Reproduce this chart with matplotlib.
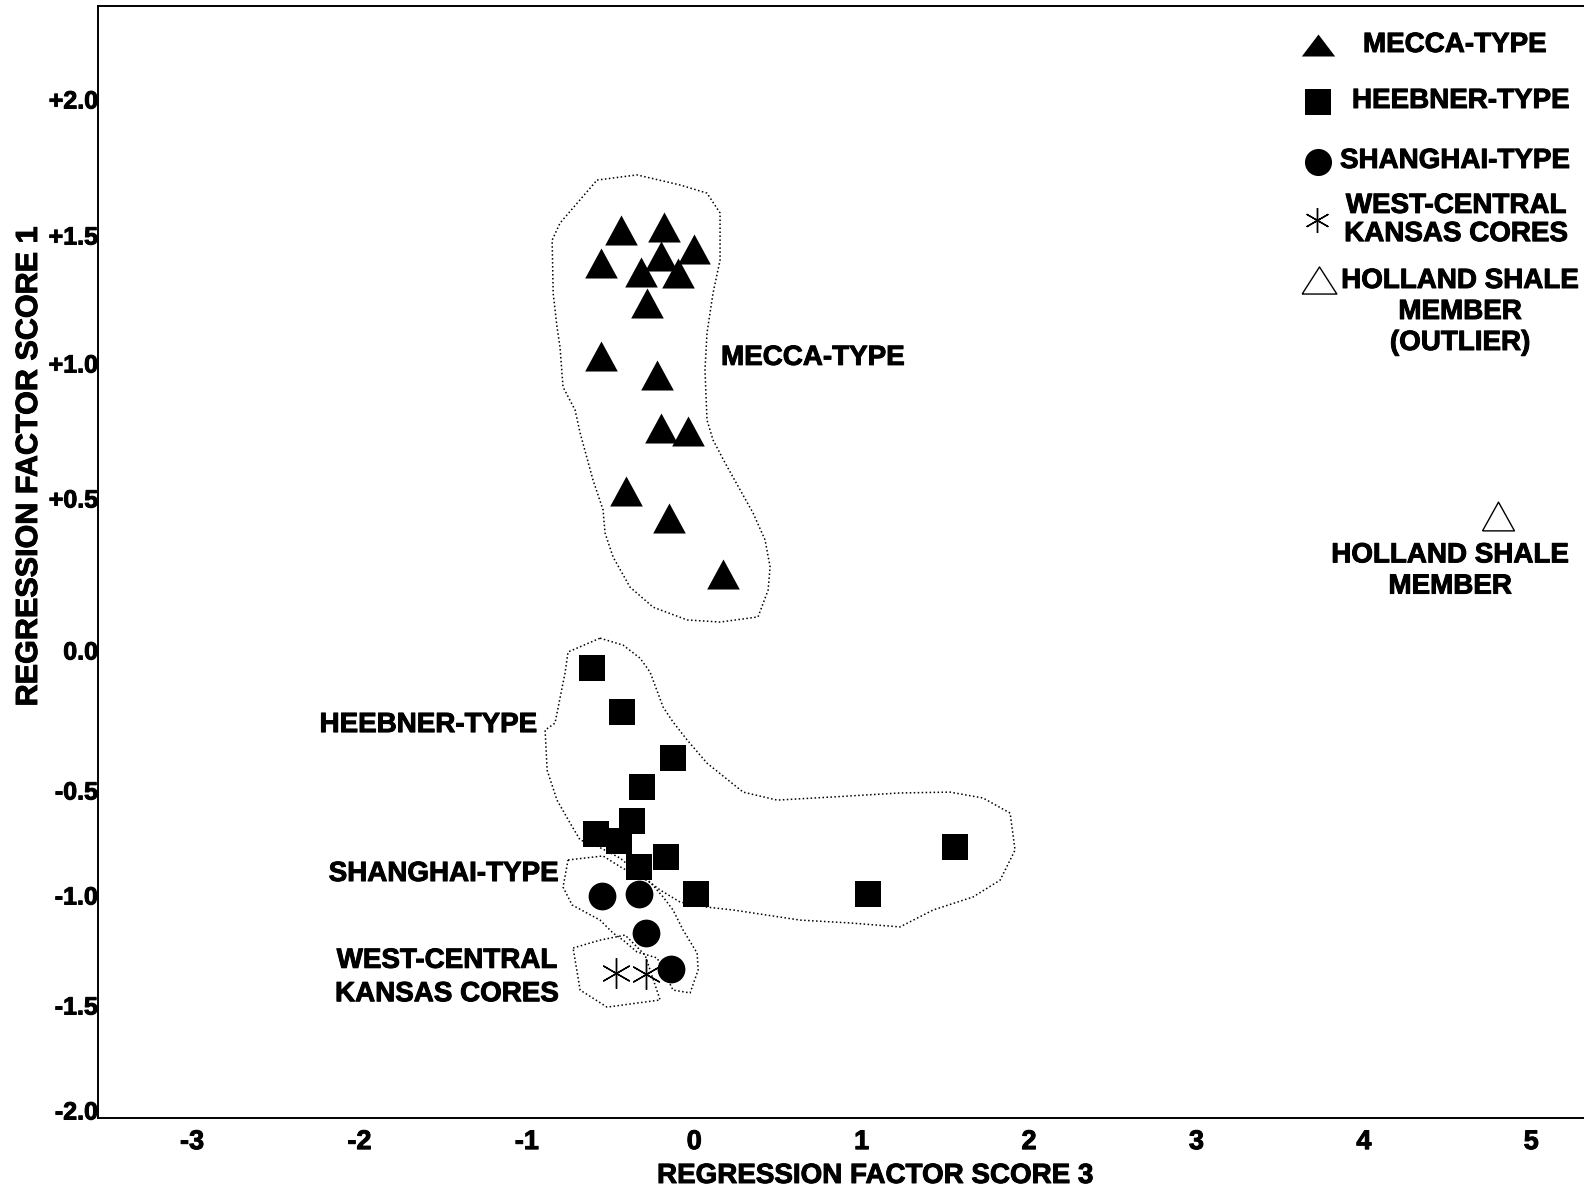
import numpy as np
import matplotlib
matplotlib.use("Agg")
import matplotlib.pyplot as plt
import matplotlib.patheffects as pe

plt.rcParams['font.family'] = ['Liberation Sans', 'DejaVu Sans']
plt.rcParams['font.weight'] = 'bold'

W, H = 1584, 1190

# regression factor score 3 (x) / score 1 (y)
mecca_x = [-0.44, -0.18, 0.00, -0.56, -0.20, -0.32, -0.10, -0.28, -0.56, -0.22, -0.20, -0.04, -0.41, -0.15, 0.17]
mecca_y = [1.52, 1.53, 1.445, 1.39, 1.418, 1.355, 1.352, 1.234, 1.027, 0.956, 0.759, 0.748, 0.526, 0.434, 0.25]

heebner_x = [-0.61, -0.43, -0.13, -0.31, -0.37, -0.59, -0.45, -0.33, -0.17, 0.01, 1.04, 1.56]
heebner_y = [-0.064, -0.221, -0.386, -0.489, -0.648, -0.71, -0.743, -0.867, -0.819, -0.995, -0.995, -0.771]

shanghai_x = [-0.55, -0.33, -0.29, -0.14]
shanghai_y = [-1.005, -0.995, -1.173, -1.336]

wck_x = [-0.47, -0.29]
wck_y = [-1.355, -1.359]

holland_x = [4.80]
holland_y = [0.44]

# hand drawn dotted outlines round the groups
mecca_line_x = [-0.581, -0.342, -0.085, 0.076, 0.154, 0.154, 0.112, 0.076, 0.064, 0.076, 0.112, 0.184,
                0.274, 0.351, 0.423, 0.453, 0.441, 0.381, 0.154, -0.043, -0.246, -0.384, -0.485, -0.533,
                -0.545, -0.605, -0.682, -0.712, -0.784, -0.802, -0.820, -0.843, -0.849, -0.802]
mecca_line_y = [1.702, 1.721, 1.684, 1.654, 1.581, 1.402, 1.273, 1.117, 0.974, 0.789, 0.715, 0.630,
                0.530, 0.451, 0.362, 0.273, 0.197, 0.109, 0.092, 0.099, 0.141, 0.207, 0.306, 0.385,
                0.461, 0.567, 0.741, 0.826, 0.911, 1.062, 1.141, 1.273, 1.480, 1.544]

heebner_line_x = [-0.563, -0.425, -0.324, -0.264, -0.186, -0.127, -0.043, 0.076, 0.292, 0.495, 0.829,
                  1.229, 1.528, 1.725, 1.887, 1.916, 1.887, 1.827, 1.665, 1.427, 1.229, 0.931, 0.632,
                  0.232, 0.076, -0.085, -0.204, -0.324, -0.443, -0.593, -0.682, -0.742, -0.820, -0.879,
                  -0.891, -0.832, -0.772, -0.754]
heebner_line_y = [0.039, 0.016, -0.029, -0.079, -0.204, -0.257, -0.321, -0.404, -0.510, -0.548, -0.533,
                  -0.514, -0.510, -0.538, -0.610, -0.786, -0.833, -0.929, -1.009, -1.068, -1.145, -1.127,
                  -1.114, -1.068, -1.055, -1.032, -0.976, -0.905, -0.824, -0.762, -0.738, -0.657, -0.548,
                  -0.429, -0.286, -0.261, -0.082, -0.007]

shanghai_line_x = [-0.754, -0.545, -0.431, -0.264, -0.186, -0.127, -0.067, 0.017, 0.023, -0.025, -0.127,
                   -0.222, -0.342, -0.425, -0.485, -0.563, -0.730, -0.784]
shanghai_line_y = [-0.833, -0.814, -0.871, -0.938, -1.009, -1.068, -1.159, -1.264, -1.341, -1.445, -1.432,
                   -1.286, -1.259, -1.205, -1.173, -1.114, -1.045, -0.962]

wck_line_x = [-0.724, -0.563, -0.413, -0.294, -0.204, -0.521, -0.682, -0.712]
wck_line_y = [-1.241, -1.205, -1.182, -1.273, -1.477, -1.510, -1.432, -1.295]

x_ticks = [-3, -2, -1, 0, 1, 2, 3, 4, 5]
x_labels = ['-3', '-2', '-1', '0', '1', '2', '3', '4', '5']
y_ticks = [2.0, 1.5, 1.0, 0.5, 0.0, -0.5, -1.0, -1.5, -2.0]
y_labels = ['+2.0', '+1.5', '+1.0', '+0.5', '0.0', '-0.5', '-1.0', '-1.5', '-2.0']

# the printed y axis is not evenly spaced: pixel rows of each tick value
y_anchor_vals = np.array([-3.0, -2.0, -1.5, -1.0, -0.5, 0.0, 0.5, 1.0, 1.5, 2.0, 3.0])
y_anchor_rows = np.array([1320, 1110, 1005, 895, 790, 650, 498, 363, 235, 99, -173], dtype=float)


def fwd(v):
    return -np.interp(v, y_anchor_vals, y_anchor_rows)


def inv(u):
    return np.interp(u, -y_anchor_rows, y_anchor_vals)


def triangle(h):
    # closed triangle outline, width 2, height 2*h
    return [(-1, -h), (1, -h), (0, h), (-1, -h)]


heavy = [pe.withStroke(linewidth=0.7, foreground='black')]

fig = plt.figure(figsize=(W / 100, H / 100), dpi=100)
ax = fig.add_axes([98 / W, 1 - 1118 / H, 1 - 98 / W, (1118 - 6) / H])
ax.set_yscale('function', functions=(fwd, inv))

outline = dict(color='black', lw=1.1, ls=(0, (1, 1.6)), zorder=1)
for lx, ly in [(mecca_line_x, mecca_line_y), (heebner_line_x, heebner_line_y),
               (shanghai_line_x, shanghai_line_y), (wck_line_x, wck_line_y)]:
    ax.plot(lx + lx[:1], ly + ly[:1], **outline)

ax.plot(mecca_x, mecca_y, ls='none', marker=triangle(0.92), ms=23.5, color='black', mew=0, zorder=3)
ax.plot(heebner_x, heebner_y, ls='none', marker='s', ms=19, color='black', mew=0, zorder=3)
ax.plot(shanghai_x, shanghai_y, ls='none', marker='o', ms=20, color='black', mew=0, zorder=3)
ax.plot(wck_x, wck_y, ls='none', marker=(6, 2, 0), ms=22, color='black', mew=1.0, zorder=3)
ax.plot(holland_x, holland_y, ls='none', marker=triangle(0.9), ms=23, mfc='white', mec='black',
        mew=1.0, zorder=3)

txt = dict(fontsize=20, fontweight='bold', va='center', path_effects=heavy)
ax.text(0.16, 1.02, 'MECCA-TYPE', ha='left', **txt)
ax.text(-0.94, -0.268, 'HEEBNER-TYPE', ha='right', **txt)
ax.text(-0.81, -0.90, 'SHANGHAI-TYPE', ha='right', **txt)
ax.text(-0.81, -1.375, 'WEST-CENTRAL\nKANSAS CORES', ha='right', multialignment='center',
        linespacing=1.37, **txt)
ax.text(4.515, 0.26, 'HOLLAND SHALE\nMEMBER', ha='center', multialignment='center',
        linespacing=1.26, **txt)

ax.set_xlim(-3.562, 5.315)
ax.set_ylim(-2.038, 2.342)
ax.set_xticks(x_ticks)
ax.set_xticklabels(x_labels)
ax.set_yticks(y_ticks)
ax.set_yticklabels(y_labels)
ax.minorticks_off()
ax.tick_params(axis='x', length=0, pad=8, labelsize=19.5)
ax.tick_params(axis='y', length=0, pad=0, labelsize=18)
for t in ax.get_xticklabels() + ax.get_yticklabels():
    t.set_path_effects(heavy)

ax.set_xlabel('REGRESSION FACTOR SCORE 3', fontsize=20, fontweight='bold', path_effects=heavy)
ax.xaxis.set_label_coords((875 - 98) / 1486, -(1163 - 1118) / 1112)
ax.set_ylabel('REGRESSION FACTOR SCORE 1', fontsize=22, fontweight='bold', path_effects=heavy)
ax.yaxis.set_label_coords((44 - 98) / 1486, 1 - (467 - 6) / 1112)

for s in ['left', 'bottom', 'top']:
    ax.spines[s].set_linewidth(1.4)
ax.spines['right'].set_visible(False)

# key, top right
def fxy(px, py):
    return px / W, 1 - py / H

key_markers = [
    (1318, 45, dict(marker=triangle(0.66), ms=24, color='black', mew=0)),
    (1318, 102, dict(marker='s', ms=18.5, color='black', mew=0)),
    (1318, 162, dict(marker='o', ms=19.5, color='black', mew=0)),
    (1317, 220, dict(marker=(6, 2, 0), ms=18, color='black', mew=1.0)),
    (1319, 280, dict(marker=triangle(0.78), ms=25, mfc='white', mec='black', mew=1.0)),
]
for px, py, st in key_markers:
    kx, ky = fxy(px, py)
    ax.plot([kx], [ky], transform=fig.transFigure, clip_on=False, ls='none', **st)

key_txt = dict(fontsize=20, fontweight='bold', va='center', transform=fig.transFigure,
               path_effects=heavy)
ax.text(*fxy(1363, 45), 'MECCA-TYPE', ha='left', **key_txt)
ax.text(*fxy(1352, 101), 'HEEBNER-TYPE', ha='left', **key_txt)
ax.text(*fxy(1340, 161), 'SHANGHAI-TYPE', ha='left', **key_txt)
ax.text(*fxy(1456, 220), 'WEST-CENTRAL\nKANSAS CORES', ha='center', multialignment='center',
        linespacing=1.11, **key_txt)
ax.text(*fxy(1460, 312), 'HOLLAND SHALE\nMEMBER\n(OUTLIER)', ha='center', multialignment='center',
        linespacing=1.25, **key_txt)

fig.savefig('out.png', dpi=100)
